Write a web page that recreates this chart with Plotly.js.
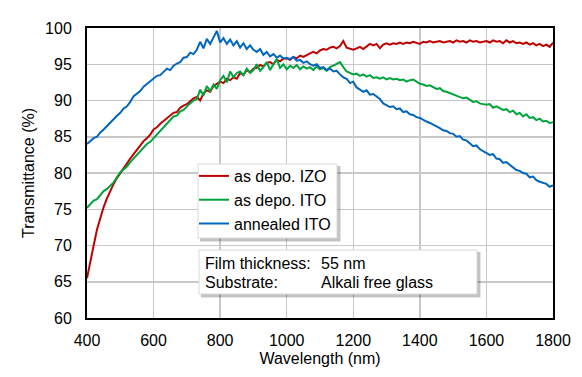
<!DOCTYPE html>
<html><head><meta charset="utf-8">
<script src="https://cdn.plot.ly/plotly-3.0.1.min.js"></script>
<style>html,body{margin:0;padding:0;background:#fff}#c{width:582px;height:377px}</style>
</head><body><div id="c"></div>
<script>
const wavelength = [400,410,420,430,440,450,460,470,480,490,500,510,520,530,540,550,560,570,580,590,600,610,620,630,640,650,660,670,680,690,700,710,720,730,740,750,760,770,780,790,800,810,820,830,840,850,860,870,880,890,900,910,920,930,940,950,960,970,980,990,1000,1010,1020,1030,1040,1050,1060,1070,1080,1090,1100,1110,1120,1130,1140,1150,1160,1170,1180,1190,1200,1210,1220,1230,1240,1250,1260,1270,1280,1290,1300,1310,1320,1330,1340,1350,1360,1370,1380,1390,1400,1410,1420,1430,1440,1450,1460,1470,1480,1490,1500,1510,1520,1530,1540,1550,1560,1570,1580,1590,1600,1610,1620,1630,1640,1650,1660,1670,1680,1690,1700,1710,1720,1730,1740,1750,1760,1770,1780,1790,1800];

const izoAsDepo = [65.5,68.0,70.0,72.2,73.8,75.3,76.5,77.6,78.5,79.3,80.0,80.7,81.4,82.0,82.6,83.2,83.8,84.4,84.8,85.3,86.0,86.3,86.8,87.2,87.5,88.0,88.3,88.4,89.0,89.3,89.5,89.9,90.3,90.5,90.0,91.0,91.4,91.2,92.0,92.3,92.6,92.4,93.0,92.8,93.2,93.0,93.8,93.5,94.2,93.9,94.4,94.5,94.9,94.7,95.2,95.3,95.0,95.6,95.4,95.8,95.8,95.6,96.0,95.8,96.2,96.0,96.3,96.5,96.7,96.5,96.9,97.1,97.0,97.3,97.4,97.2,97.5,98.2,97.3,97.1,97.0,97.2,97.4,97.1,97.5,97.8,97.6,97.8,97.2,97.7,97.9,97.7,97.9,97.8,98.0,97.8,98.0,97.9,98.1,97.9,97.8,98.1,98.0,98.2,98.0,98.1,98.2,98.0,98.1,98.2,98.0,98.3,98.1,98.2,98.0,98.3,98.1,98.2,98.0,98.1,98.2,98.0,98.3,98.1,98.2,97.9,98.3,98.0,98.2,97.9,98.0,97.8,98.0,97.7,97.9,97.6,97.8,97.5,97.7,97.4,98.0];

const itoAsDepo = [75.2,75.7,76.2,76.4,77.0,77.5,77.8,78.3,78.7,79.4,80.1,80.5,80.9,81.5,82.0,82.5,82.9,83.5,84.0,84.3,84.8,85.3,85.7,86.3,86.8,87.2,87.8,87.9,88.5,88.7,89.2,89.6,90.0,90.2,91.5,90.7,92.0,91.3,92.2,91.6,92.8,93.4,92.5,94.0,93.2,93.8,94.0,93.5,94.4,93.8,94.2,95.0,94.1,94.6,95.3,94.2,95.0,95.7,94.5,95.0,94.3,94.8,94.5,94.9,94.3,94.7,94.4,94.6,94.2,94.7,94.3,94.5,94.1,94.6,94.8,95.1,95.3,94.6,94.0,93.8,93.6,93.7,93.4,93.6,93.3,93.5,93.1,93.2,93.0,93.2,92.9,93.1,92.9,93.0,92.8,92.9,92.6,92.8,92.9,92.6,92.3,92.2,92.0,92.1,91.8,91.6,91.7,91.3,91.2,91.0,90.9,90.7,90.5,90.3,90.4,90.1,89.8,89.9,89.6,89.5,89.4,89.5,89.0,89.2,88.9,88.7,88.8,88.4,88.6,88.1,88.3,87.8,88.1,87.6,87.7,87.3,87.5,87.1,87.2,86.9,87.0];

const itoAnnealed = [84.0,84.4,84.8,85.0,85.6,86.0,86.5,86.9,87.5,87.9,88.3,88.9,89.2,89.8,90.6,90.9,91.3,91.9,92.3,92.6,93.0,93.4,93.5,94.0,94.4,94.2,94.8,95.1,95.3,95.9,96.0,96.6,96.4,97.0,98.1,97.2,98.5,97.8,98.6,99.6,98.0,98.6,97.8,98.4,97.6,98.2,97.3,97.9,97.1,97.6,97.0,96.7,97.1,96.3,96.7,96.1,96.4,95.9,96.2,95.8,95.9,95.7,96.0,95.5,95.6,95.2,95.4,95.0,94.8,95.0,94.5,94.6,94.2,94.4,94.0,94.1,93.6,93.2,93.0,92.4,92.6,91.8,91.5,91.2,91.4,90.8,90.9,90.5,90.2,89.6,89.3,89.1,89.2,88.8,88.9,88.4,88.5,88.1,88.0,87.7,87.6,87.3,87.1,86.9,86.7,86.4,86.2,85.9,85.8,85.5,85.4,85.0,85.1,84.6,84.5,84.1,83.7,83.8,83.3,83.0,82.8,82.5,82.6,82.0,81.9,81.4,81.5,81.1,80.8,80.4,80.3,80.0,79.9,79.4,79.5,79.0,78.8,78.6,78.5,78.1,78.3];

const seriesNames = ["as depo. IZO","as depo. ITO","annealed ITO"];
const seriesColors = ["#c00000","#00a33c","#0066c0"];
const xTicks = [400,600,800,1000,1200,1400,1600,1800];
const yTicks = [60,65,70,75,80,85,90,95,100];
const noteLabels = ["Film thickness:","Substrate:"];
const noteValues = ["55 nm","Alkali free glass"];

const ys = [izoAsDepo, itoAsDepo, itoAnnealed];
const traces = ys.map((y,i)=>({
  x: wavelength, y: y, type:'scatter', mode:'lines', name: seriesNames[i],
  legendgroup: 'g'+i,
  line:{color: seriesColors[i], width:2}
}));

const F = "Liberation Sans, Arial, sans-serif";
const FS = 16;
function shadowRects(x0,x1,y0,y1){
  const dx = 1/466, dy = 1/290;
  return [
    {type:'rect', xref:'paper', yref:'paper', x0:x0+2*dx, x1:x1+4*dx, y0:y0-4*dy, y1:y1-2*dy,
      fillcolor:'rgba(0,0,0,0.10)', line:{width:0}, layer:'above'},
    {type:'rect', xref:'paper', yref:'paper', x0:x0+2*dx, x1:x1+3*dx, y0:y0-3*dy, y1:y1-2*dy,
      fillcolor:'rgba(0,0,0,0.15)', line:{width:0}, layer:'above'},
    {type:'rect', xref:'paper', yref:'paper', x0:x0, x1:x1, y0:y0, y1:y1,
      fillcolor:'#fff', line:{color:'#d9d9d9', width:1}, layer:'above'}
  ];
}
const px = v => (v-87)/466, py = v => (318-v)/290;
const layout = {
  width:582, height:377,
  margin:{l:87, r:29, t:28, b:59},
  paper_bgcolor:'#fff', plot_bgcolor:'#fff',
  font:{family:F, size:FS, color:'#000'},
  showlegend:true,
  legend:{x:px(194), y:py(159), xanchor:'left', yanchor:'top',
    bgcolor:'rgba(0,0,0,0)', borderwidth:0, itemwidth:30,
    font:{family:F, size:FS, color:'#000'}, traceorder:'grouped', tracegroupgap:0},
  xaxis:{range:[400,1800], tickvals:xTicks, ticktext:xTicks.map(String),
    showgrid:true, gridcolor:'#c8c8c8', gridwidth:1.5,
    showline:true, linecolor:'#000', linewidth:2, mirror:true,
    ticks:'outside', ticklen:7, tickcolor:'rgba(0,0,0,0)', zeroline:false,
    title:{text:'Wavelength (nm)', font:{family:F, size:FS}, standoff:5}},
  yaxis:{range:[60,100], tickvals:yTicks, ticktext:yTicks.map(String),
    showgrid:true, gridcolor:'#c8c8c8', gridwidth:1.5,
    showline:true, linecolor:'#000', linewidth:2, mirror:true,
    ticks:'outside', ticklen:10, tickcolor:'rgba(0,0,0,0)', zeroline:false,
    title:{text:'Transmittance (%)', font:{family:F, size:FS}, standoff:6}},
  shapes:[].concat(
    shadowRects(px(198), px(337), py(238), py(164)),
    shadowRects(px(199), px(477), py(294), py(250))
  ),
  annotations:[
    {xref:'paper', yref:'paper', x:px(203), y:py(263), xanchor:'left', yanchor:'middle', showarrow:false,
      text:noteLabels[0], font:{family:F, size:FS}},
    {xref:'paper', yref:'paper', x:px(203), y:py(282), xanchor:'left', yanchor:'middle', showarrow:false,
      text:noteLabels[1], font:{family:F, size:FS}},
    {xref:'paper', yref:'paper', x:px(319), y:py(263), xanchor:'left', yanchor:'middle', showarrow:false,
      text:noteValues[0], font:{family:F, size:FS}},
    {xref:'paper', yref:'paper', x:px(319), y:py(282), xanchor:'left', yanchor:'middle', showarrow:false,
      text:noteValues[1], font:{family:F, size:FS}}
  ]
};
Plotly.newPlot('c', traces, layout, {displayModeBar:false, staticPlot:true});
</script></body></html>
